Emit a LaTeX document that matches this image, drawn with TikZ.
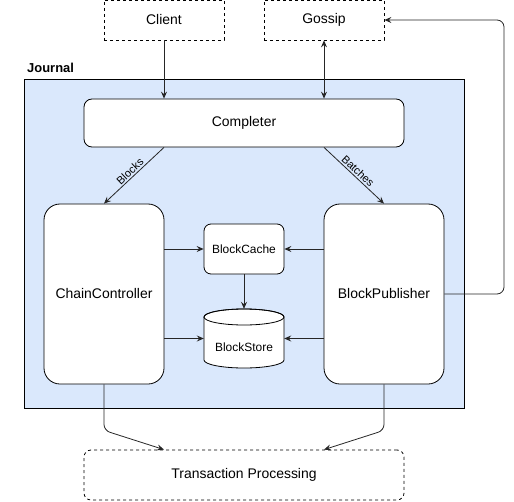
\documentclass[tikz,border=0pt]{standalone}
\usepackage{fontspec}
\setmainfont{Liberation Sans}
\usetikzlibrary{arrows.meta}
\definecolor{jfill}{HTML}{DAE8FC}
\tikzset{
  every node/.style={font=\fontsize{14}{16}\selectfont, inner sep=0pt},
  dashbox/.style={draw=black, line width=0.8bp, dash pattern=on 3bp off 3bp},
  rbox/.style={draw=black, line width=0.8bp, fill=white, rounded corners=#1},
  rbox/.default=7bp,
  conn/.style={line width=0.8bp, draw=black!85, -{Stealth[length=7bp,width=6bp,inset=2.5bp]}},
  small/.style={font=\fontsize{12}{14}\selectfont},
  lbl/.style={font=\fontsize{11}{13}\selectfont, fill=none},
}
\begin{document}
\begin{tikzpicture}[x=1bp,y=-1bp]
\useasboundingbox (0,0) rectangle (514,502);
% Journal container
\node[draw=black, line width=0.8bp, fill=jfill, minimum width=440bp, minimum height=329bp] (journal) at (244,243.5) {};
\node[anchor=base west, font=\fontsize{13}{15}\selectfont\bfseries] (jlabel) at (27,73) {Journal};
% top boxes
\node[dashbox, minimum width=120bp, minimum height=40bp] (client) at (164,20) {Client};
\node[dashbox, minimum width=120bp, minimum height=40bp] (gossip) at (324,20) {Gossip};
% completer
\node[rbox=8bp, minimum width=320bp, minimum height=48bp] (completer) at (244,123) {Completer};
% chain controller and publisher
\node[rbox=16bp, minimum width=120bp, minimum height=180bp] (cc) at (104,294) {ChainController};
\node[rbox=16bp, minimum width=120bp, minimum height=180bp] (bp) at (384,294) {BlockPublisher};
% block cache
\node[rbox=7bp, small, minimum width=80bp, minimum height=50bp] (bc) at (244,249) {BlockCache};
% block store cylinder
\node[minimum width=80bp, minimum height=59bp] (bs) at (244,338.5) {};
\draw[line width=0.8bp, fill=white] (204,317) -- (204,360) arc[start angle=180, end angle=360, x radius=40bp, y radius=8bp] -- (284,317) arc[start angle=0, end angle=180, x radius=40bp, y radius=8bp] -- cycle;
\draw[line width=0.8bp] (244,317) ellipse[x radius=40bp, y radius=8bp];
\node[small] (bslabel) at ([yshift=-8.5bp]bs.center) {BlockStore};
% transaction processing
\node[dashbox, rounded corners=7bp, minimum width=320bp, minimum height=50bp] (tp) at (244,475) {Transaction Processing};
% connectors
\draw[conn] (client.south) -- (client.south |- completer.north);
\draw[conn, {Stealth[length=7bp,width=6bp,inset=2.5bp]}-{Stealth[length=7bp,width=6bp,inset=2.5bp]}] (gossip.south) -- (gossip.south |- completer.north);
\draw[conn] ([xshift=-80bp]completer.south) -- node[lbl, sloped, above=1.5bp] {Blocks} (cc.north);
\draw[conn] ([xshift=80bp]completer.south) -- node[lbl, sloped, above=1.5bp] {Batches} (bp.north);
\draw[conn] (cc.east |- bc.west) -- (bc.west);
\draw[conn] (cc.east |- bs.west) -- (bs.west);
\draw[conn] (bp.west |- bc.east) -- (bc.east);
\draw[conn] (bp.west |- bs.east) -- (bs.east);
\draw[conn] (bc.south) -- (bs.north);
\coordinate (rt) at (504,294);
\draw[conn, rounded corners=7bp] (bp.east) -- (rt) -- (rt |- gossip.east) -- (gossip.east);
\draw[conn, rounded corners=6bp] (cc.south) -- ++(0,46) -- ([xshift=-80bp]tp.north);
\draw[conn, rounded corners=6bp] (bp.south) -- ++(0,46) -- ([xshift=80bp]tp.north);
\end{tikzpicture}
\end{document}
